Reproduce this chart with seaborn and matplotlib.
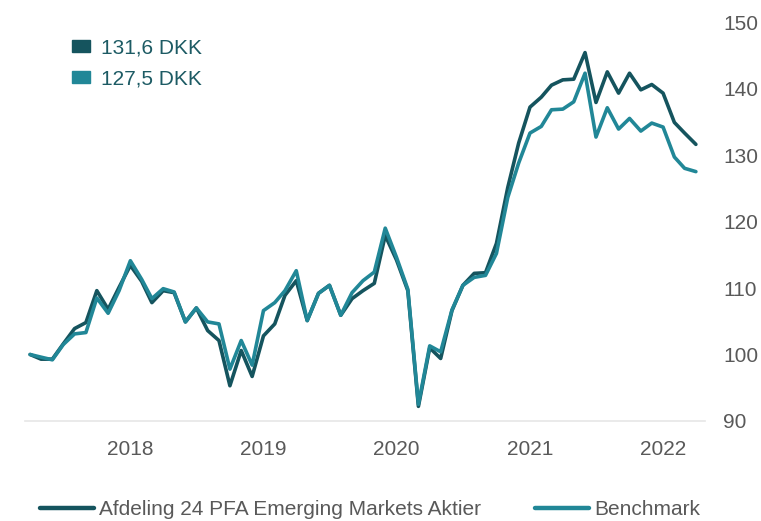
import pandas as pd
import seaborn as sns
import matplotlib.pyplot as plt
from matplotlib.patches import Patch
from matplotlib.lines import Line2D
import matplotlib.dates as mdates

# monthly index values, Apr 2017 - Apr 2022
dates = pd.date_range("2017-04-01", "2022-04-01", freq="MS")
fund = [100.0, 99.3, 99.3, 101.6, 103.9, 104.8, 109.6, 106.8, 110.1, 113.4,
        111.0, 107.8, 109.6, 109.3, 104.9, 107.0, 103.6, 102.1, 95.3, 100.6,
        96.7, 102.8, 104.6, 108.9, 111.1, 105.1, 109.2, 110.4, 105.9, 108.4,
        109.6, 110.7, 117.9, 114.2, 109.6, 92.2, 101.0, 99.4, 106.6, 110.4,
        112.2, 112.3, 116.7, 125.1, 131.8, 137.2, 138.7, 140.5, 141.3, 141.4,
        145.4, 137.9, 142.5, 139.3, 142.3, 139.8, 140.6, 139.3, 134.9, 133.3,
        131.6]
bench = [100.0, 99.6, 99.2, 101.5, 103.1, 103.3, 108.5, 106.2, 109.6, 114.1,
         111.3, 108.4, 109.9, 109.4, 104.9, 107.0, 104.9, 104.6, 97.8, 102.1,
         98.4, 106.6, 107.8, 109.6, 112.6, 105.1, 109.2, 110.4, 105.9, 109.3,
         111.1, 112.4, 119.0, 114.6, 109.8, 92.5, 101.3, 100.4, 106.7, 110.4,
         111.6, 111.9, 115.2, 123.6, 128.8, 133.3, 134.3, 136.8, 136.9, 138.0,
         142.3, 132.7, 137.1, 133.9, 135.5, 133.6, 134.8, 134.2, 129.7, 128.0,
         127.5]
series_names = ["Afdeling 24 PFA Emerging Markets Aktier", "Benchmark"]
end_labels = ["131,6 DKK", "127,5 DKK"]
colors = ["#15545e", "#218797"]

df = pd.DataFrame({"date": dates, series_names[0]: fund, series_names[1]: bench})
long = df.melt(id_vars="date", var_name="serie", value_name="value")

sns.set_style("white")
plt.rcParams["font.family"] = ["Liberation Sans", "DejaVu Sans"]

fig = plt.figure(figsize=(7.61, 5.21), dpi=100)
ax = fig.add_axes([25 / 761, 1 - 421 / 521, 680 / 761, 399 / 521])

sns.lineplot(data=long, x="date", y="value", hue="serie", hue_order=series_names,
             palette=colors, linewidth=2.6, legend=False, ax=ax)

ax.set_ylim(90, 150)
ax.set_yticks(range(90, 151, 10))
ax.set_xlim(pd.Timestamp("2017-03-18"), pd.Timestamp("2022-04-26"))
ax.xaxis.set_major_locator(mdates.YearLocator())
ax.xaxis.set_major_formatter(mdates.DateFormatter("%Y"))
ax.yaxis.tick_right()
ax.tick_params(axis="both", length=0, labelsize=15, colors="#595959")
ax.tick_params(axis="x", pad=14)
ax.tick_params(axis="y", pad=13)
ax.set_xlabel("")
ax.set_ylabel("")
sns.despine(ax=ax, left=True, right=True, top=True, bottom=False)
ax.spines["bottom"].set_color("#e6e6e6")
ax.spines["bottom"].set_linewidth(1.2)

# value legend top-left
top_handles = [Patch(color=c) for c in colors]
ax.legend(top_handles, end_labels, loc="upper left",
          bbox_to_anchor=(72 / 761, 1 - 38 / 521), bbox_transform=fig.transFigure,
          frameon=False, fontsize=15, labelcolor="#1d5b64",
          handlelength=0.87, handleheight=0.5, handletextpad=0.5,
          labelspacing=0.6, borderpad=0, borderaxespad=0)

# series legend at the bottom
bottom_handles = [Line2D([], [], color=c, linewidth=3.2) for c in colors]
fig.legend(bottom_handles, series_names, loc="upper left",
           bbox_to_anchor=(40 / 761, 1 - 500 / 521), ncol=2, frameon=False,
           fontsize=15, labelcolor="#595959", handlelength=2.6,
           handletextpad=0.25, columnspacing=2.55, borderpad=0, borderaxespad=0)

fig.savefig("out.png", dpi=100)
